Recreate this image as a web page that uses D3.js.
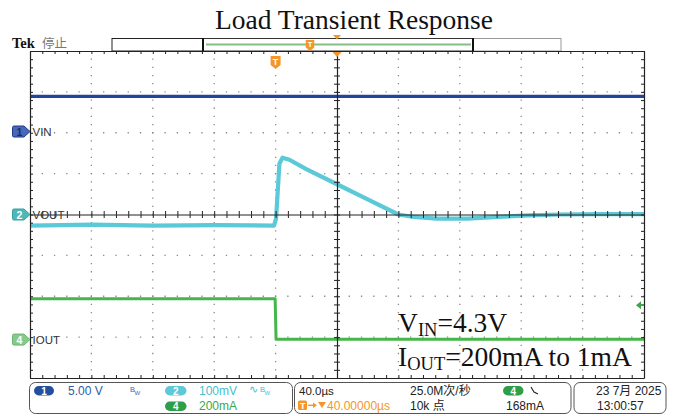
<!DOCTYPE html>
<html>
<head>
<meta charset="utf-8">
<script src="https://cdn.jsdelivr.net/npm/d3@7"></script>
<style>
  html, body { margin: 0; padding: 0; background: #fff; }
  svg { display: block; }
  .ui { font-family: "Liberation Sans", "Noto Sans CJK SC", sans-serif; }
  .serif { font-family: "Liberation Serif", "DejaVu Serif", serif; }
</style>
</head>
<body>
<svg id="chart" width="676" height="416"></svg>
<script>
// ---- acquisition data (time in µs relative to the trigger) ----
const timeWindow = [-160, 240];          // 10 divisions at 40 µs/div
const timePerDiv = 40;

const vinTime  = [-160, -80, 0, 80, 160, 240];
const vinVolts = [4.3, 4.3, 4.3, 4.3, 4.3, 4.3];

const voutTime       = [-160, -120, -80, -40, -1, 0.3, 2.5, 4.5, 9, 20, 40, 60, 80, 88, 105, 125, 145, 165, 185, 210, 240];
const voutMilliVolts = [-27, -25, -27, -26, -27, -10, 125, 139, 134, 111, 74, 37, 0, -5, -10, -10, -6, -2, 0, 1, 1];

const ioutTime       = [-160, -0.3, 0.3, 240];
const ioutMilliAmps  = [200, 200, 1, 1];

// ---- channel settings ----
const channelIds    = ["1", "2", "4"];
const channelNames  = ["VIN", "VOUT", "IOUT"];
const channelPerDiv = [5, 100, 200];          // V/div, mV/div, mA/div
const channelPosDiv = [2.03, 0, -3.06];       // vertical position, divisions
const channelScaleText = ["5.00 V", "100mV", "200mA"];
const triggerLevel  = 168;                    // mA on channel 4

// ---- status text ----
const horizontalText = ["40.0µs", "25.0M次/秒", "10k 点"];
const delayText = "40.00000µs";
const triggerText = "168mA";
const dateText = ["23 7月 2025", "13:00:57"];
const titleText = "Load Transient Response";

// ---- colours ----
const colVin = "#22449e", colVout = "#5cc9d8", colIout = "#45b64a";
const colOrange = "#f5962a";

const svg = d3.select("#chart");
const plot = { left: 30, right: 644, top: 51, bottom: 378 };

const x = d3.scaleLinear().domain(timeWindow).range([plot.left, plot.right]);
const yDiv = d3.scaleLinear().domain([-4, 4]).range([plot.bottom, plot.top]);
const yChan = (ci, v) => yDiv(channelPosDiv[ci] + v / channelPerDiv[ci]);

// title
svg.append("text").attr("class", "serif")
  .attr("x", 354).attr("y", 29).attr("text-anchor", "middle")
  .attr("font-size", 27.5).attr("fill", "#111").text(titleText);

// ---- top bar ----
svg.append("text").attr("class", "serif").attr("x", 12).attr("y", 48)
  .attr("font-size", 14.5).attr("font-weight", "bold").attr("fill", "#111").text("Tek");
svg.append("text").attr("class", "ui").attr("x", 42).attr("y", 48)
  .attr("font-size", 12.5).attr("fill", "#777").text("停止");

// record-length bar: full record vs. displayed portion
const recX = d3.scaleLinear().domain([0, 1]).range([112, 561]);
const viewStart = 0.2027, viewEnd = 0.8040;
svg.append("rect").attr("x", recX(0)).attr("y", 38.5).attr("width", recX(viewStart) - recX(0)).attr("height", 12.5)
  .attr("fill", "#fff").attr("stroke", "#222").attr("stroke-width", 1);
svg.append("rect").attr("x", recX(viewEnd)).attr("y", 38.5).attr("width", recX(1) - recX(viewEnd)).attr("height", 12.5)
  .attr("fill", "#fff").attr("stroke", "#999").attr("stroke-width", 1);
svg.append("rect").attr("x", recX(viewStart)).attr("y", 38.5).attr("width", recX(viewEnd) - recX(viewStart)).attr("height", 12.5)
  .attr("fill", "#fff").attr("stroke", "#333").attr("stroke-width", 1);
svg.append("line").attr("x1", recX(viewStart) + 3).attr("x2", recX(viewEnd) - 2).attr("y1", 44.5).attr("y2", 44.5)
  .attr("stroke", "#86bf86").attr("stroke-width", 2);
[viewStart, viewEnd].forEach(v => svg.append("line").attr("x1", recX(v)).attr("x2", recX(v))
  .attr("y1", 38).attr("y2", 51.5).attr("stroke", "#111").attr("stroke-width", 2));

// ---- graticule ----
const g = svg.append("g");
const divW = (plot.right - plot.left) / 10, divH = (plot.bottom - plot.top) / 8;
const minorTimes = d3.range(timeWindow[0], timeWindow[1] + 0.01, timePerDiv / 5);
const minorDivs = d3.range(-4, 4.001, 0.2);

// dotted major grid
d3.range(1, 10).filter(i => i !== 5).forEach(i => {
  const xv = x(timeWindow[0] + i * timePerDiv);
  g.append("line").attr("x1", xv).attr("x2", xv).attr("y1", plot.top).attr("y2", plot.bottom)
    .attr("stroke", "#8a8a8a").attr("stroke-width", 1.3)
    .attr("stroke-dasharray", `1.3 ${divH / 5 - 1.3}`).attr("stroke-dashoffset", 0.65);
});
d3.range(-3, 4).filter(j => j !== 0).forEach(j => {
  const yv = yDiv(j);
  g.append("line").attr("x1", plot.left).attr("x2", plot.right).attr("y1", yv).attr("y2", yv)
    .attr("stroke", "#8a8a8a").attr("stroke-width", 1.3)
    .attr("stroke-dasharray", `1.3 ${divW / 5 - 1.3}`).attr("stroke-dashoffset", 0.65);
});

// ---- traces ----
const tr = svg.append("g");
const lineFor = (ci, ts, vs) => d3.line().x((d, i) => x(ts[i])).y((d, i) => yChan(ci, vs[i]))(vs);
tr.append("path").attr("d", lineFor(0, vinTime, vinVolts)).attr("fill", "none")
  .attr("stroke", colVin).attr("stroke-width", 3.2);
tr.append("path").attr("d", lineFor(2, ioutTime, ioutMilliAmps)).attr("fill", "none")
  .attr("stroke", colIout).attr("stroke-width", 3).attr("stroke-linejoin", "round");
tr.append("path").attr("d", lineFor(1, voutTime, voutMilliVolts)).attr("fill", "none")
  .attr("stroke", colVout).attr("stroke-width", 4.2).attr("stroke-linejoin", "round");

// ---- frame and centre cross with minor ticks ----
const tickAxis = (axis, tx, ty) => {
  const a = svg.append("g").attr("transform", `translate(${tx},${ty})`).call(axis);
  a.selectAll("text").remove();
  a.selectAll(".domain").attr("stroke", "#222").attr("stroke-width", 1.2);
  a.selectAll(".tick line").attr("stroke", "#222");
  return a;
};
const fmtNone = () => "";
tickAxis(d3.axisBottom(x).tickValues(minorTimes).tickSize(3).tickSizeOuter(0).tickFormat(fmtNone), 0, plot.top);
tickAxis(d3.axisTop(x).tickValues(minorTimes).tickSize(3).tickSizeOuter(0).tickFormat(fmtNone), 0, plot.bottom);
tickAxis(d3.axisRight(yDiv).tickValues(minorDivs).tickSize(3).tickSizeOuter(0).tickFormat(fmtNone), plot.left, 0);
tickAxis(d3.axisLeft(yDiv).tickValues(minorDivs).tickSize(3).tickSizeOuter(0).tickFormat(fmtNone), plot.right, 0);
// centre cross: ticks on both sides
const cx = x(timeWindow[0] + 5 * timePerDiv), cy = yDiv(0);
tickAxis(d3.axisBottom(x).tickValues(minorTimes).tickSize(3.5).tickSizeOuter(0).tickFormat(fmtNone), 0, cy);
tickAxis(d3.axisTop(x).tickValues(minorTimes).tickSize(3.5).tickSizeOuter(0).tickFormat(fmtNone), 0, cy).select(".domain").remove();
tickAxis(d3.axisRight(yDiv).tickValues(minorDivs).tickSize(3).tickSizeOuter(0).tickFormat(fmtNone), cx, 0);
tickAxis(d3.axisLeft(yDiv).tickValues(minorDivs).tickSize(3).tickSizeOuter(0).tickFormat(fmtNone), cx, 0).select(".domain").remove();

// ---- channel markers ----
const markerFill = ["#4767b8", "#4db8b6", "#86c98a"];
const markerStroke = ["#1f3a8a", "#3a9e9c", "#6db572"];
const markerText = ["#1a2c6a", "#fff", "#fff"];
channelIds.forEach((id, ci) => {
  const yv = yDiv(channelPosDiv[ci]);
  const mg = svg.append("g").attr("transform", `translate(0,${yv})`);
  mg.append("path").attr("d", "M14,-5.5 H24 L30,0 L24,5.5 H14 Q12.5,5.5 12.5,4 V-4 Q12.5,-5.5 14,-5.5 Z")
    .attr("fill", markerFill[ci]).attr("stroke", markerStroke[ci]).attr("stroke-width", 1);
  mg.append("text").attr("class", "ui").attr("x", 19.5).attr("y", 4).attr("text-anchor", "middle")
    .attr("font-size", 10.5).attr("font-weight", "bold").attr("fill", markerText[ci]).text(id);
  mg.append("text").attr("class", "ui").attr("x", 32.5).attr("y", 4.5)
    .attr("font-size", 11.5).attr("fill", "#333").text(channelNames[ci]);
});

// trigger position marker (T) and horizontal position (▼)
const shield = (gx, gy, s) => {
  const sg = svg.append("g").attr("transform", `translate(${gx},${gy}) scale(${s})`);
  sg.append("path").attr("d", "M-5,-6 H5 V3 L0,7 L-5,3 Z").attr("fill", colOrange);
  sg.append("text").attr("class", "ui").attr("x", 0).attr("y", 2.8).attr("text-anchor", "middle")
    .attr("font-size", 9).attr("font-weight", "bold").attr("fill", "#fff").text("T");
};
shield(x(0), 62, 1);
shield(310, 45, 0.85);
svg.append("path").attr("d", `M${cx - 4.5},${plot.top + 1} L${cx + 4.5},${plot.top + 1} L${cx},${plot.top + 6} Z`).attr("fill", colOrange);
svg.append("path").attr("d", `M${cx - 4},35 L${cx + 4},35 L${cx},39.5 Z`).attr("fill", colOrange);

// trigger level arrow for channel 4
const yTrig = yChan(2, triggerLevel);
svg.append("path").attr("d", `M${plot.right - 8},${yTrig} L${plot.right - 3},${yTrig - 4} L${plot.right - 3},${yTrig + 4} Z`).attr("fill", "#3aa84a");
svg.append("line").attr("x1", plot.right - 4).attr("x2", plot.right).attr("y1", yTrig).attr("y2", yTrig)
  .attr("stroke", "#3aa84a").attr("stroke-width", 1.5);

// ---- annotations ----
const ann = svg.append("g").attr("class", "serif").attr("fill", "#111");
const a1 = ann.append("text").attr("x", 398).attr("y", 332).attr("font-size", 27.5);
a1.append("tspan").text("V");
a1.append("tspan").attr("font-size", 18.5).attr("dy", 4).text("IN");
a1.append("tspan").attr("dy", -4).text("=" + vinVolts[0] + "V");
const a2 = ann.append("text").attr("x", 398).attr("y", 366).attr("font-size", 27.5);
a2.append("tspan").text("I");
a2.append("tspan").attr("font-size", 18.5).attr("dy", 4).text("OUT");
a2.append("tspan").attr("dy", -4).text(`=${ioutMilliAmps[0]}mA to ${ioutMilliAmps[ioutMilliAmps.length - 1]}mA`);

// ---- status boxes ----
const sb = svg.append("g").attr("class", "ui");
[[29.5, 292.5], [294.5, 571], [574, 666]].forEach(([a, b]) =>
  sb.append("rect").attr("x", a).attr("y", 382.5).attr("width", b - a).attr("height", 31).attr("rx", 6)
    .attr("fill", "#fff").attr("stroke", "#555").attr("stroke-width", 1));

const pill = (px, py, w, fill, label) => {
  sb.append("rect").attr("x", px).attr("y", py).attr("width", w).attr("height", 9.5).attr("rx", 4.75).attr("fill", fill);
  sb.append("text").attr("x", px + w / 2).attr("y", py + 8.5).attr("text-anchor", "middle")
    .attr("font-size", 10).attr("font-weight", "bold").attr("fill", "#fff").text(label);
};
const txt = (tx, ty, s, fill, size = 12) =>
  sb.append("text").attr("x", tx).attr("y", ty).attr("font-size", size).attr("fill", fill).text(s);

const row1 = 394.5, row2 = 409.5;
pill(34, 386, 20, "#234f9f", channelIds[0]);
txt(68, row1, channelScaleText[0], "#2f5ba8");
txt(130, 392, "B", "#3d66b3", 7.5); txt(134.5, 395, "W", "#3d66b3", 6);
pill(165, 386, 21.5, colVout, channelIds[1]);
txt(199, row1, channelScaleText[1], "#45bfd0");
txt(249, 393, "∿", "#45bfd0", 11); txt(260, 392, "B", "#45bfd0", 7.5); txt(264.5, 395, "W", "#45bfd0", 6);
pill(165, 401.5, 21.5, "#2e9e48", channelIds[2]);
txt(199, row2, channelScaleText[2], "#3aa84a");

txt(299, row1, horizontalText[0], "#222", 11.5);
txt(410, row1, horizontalText[1], "#222");
txt(410, row2, horizontalText[2], "#222");
pill(503, 386, 20.5, "#2e9e48", channelIds[2]);
sb.append("path").attr("d", "M531,387 L534,392 L538,394").attr("fill", "none").attr("stroke", "#222").attr("stroke-width", 1.1);
txt(506, row2, triggerText, "#222");
// delay readout: T → ▼ 40.00000µs
sb.append("rect").attr("x", 298).attr("y", 400.5).attr("width", 9).attr("height", 9.5).attr("rx", 1.5).attr("fill", colOrange);
txt(300, 409, "T", "#fff", 9).attr("font-weight", "bold");
sb.append("line").attr("x1", 308).attr("x2", 314).attr("y1", 405.3).attr("y2", 405.3)
  .attr("stroke", colOrange).attr("stroke-width", 1.4);
sb.append("path").attr("d", "M313,402.5 L317,405.3 L313,408 Z").attr("fill", colOrange);
sb.append("path").attr("d", "M318,402 L326,402 L322,408 Z").attr("fill", colOrange);
txt(327, row2, delayText, colOrange);

txt(596, row1, dateText[0], "#222");
txt(597, row2, dateText[1], "#222");
</script>
</body>
</html>
